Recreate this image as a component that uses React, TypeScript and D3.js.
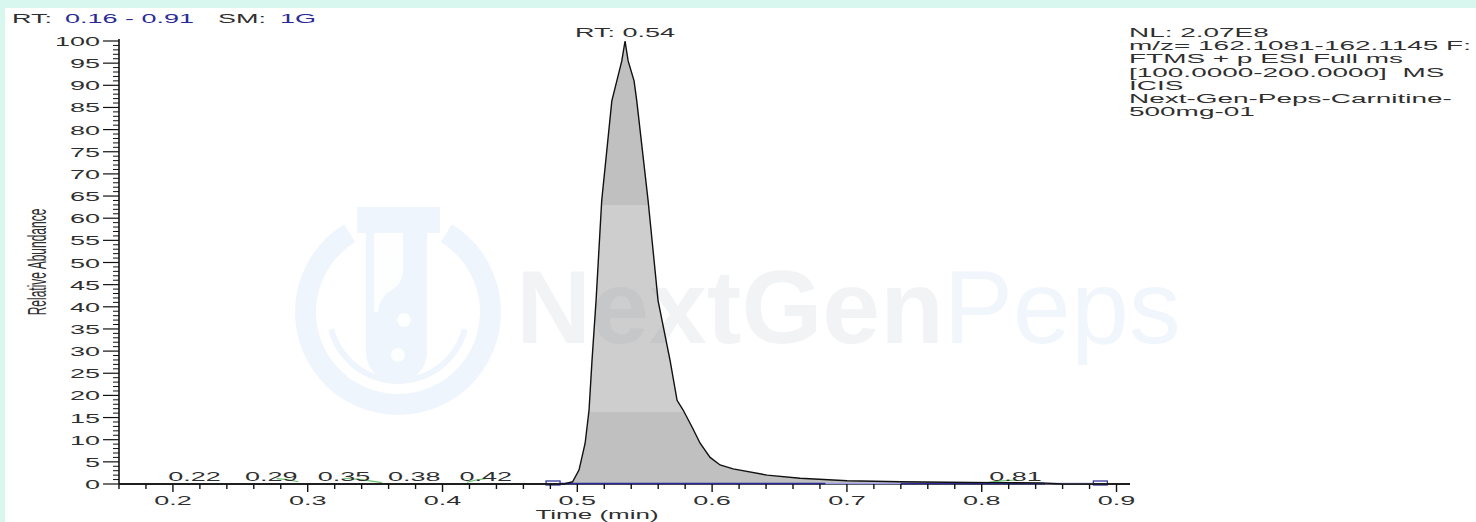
import React from "react";
import * as d3 from "d3";

const W = 1476;
const H = 522;
const FONT = "'Liberation Sans', Arial, Helvetica, sans-serif";
const SX = 2; // the exported chromatogram is stretched ~2x horizontally
const INK = "#2f2f2f";
const NAVY = "#2a2a96";

// chromatogram trace: time (min) / relative abundance (%)
const traceTime = [
  0.16, 0.49, 0.4965, 0.5013, 0.5058, 0.5087, 0.5109, 0.5139, 0.5181, 0.5256,
  0.5293, 0.533, 0.5354, 0.5377, 0.5421, 0.5441, 0.5525, 0.5599, 0.5688, 0.574,
  0.5785, 0.5852, 0.5911, 0.5985, 0.6059, 0.6156, 0.6408, 0.6653, 0.7002, 0.7395,
  0.7915, 0.8137, 0.8434, 0.86, 0.91,
];
const traceAbundance = [
  0, 0, 0.5, 3.2, 9.2, 16.7, 27.9, 41.4, 64, 86.5,
  91, 95.5, 100, 95.5, 91, 86.5, 64, 41.4, 27.9, 18.9,
  16.7, 12.8, 9.2, 6.0, 4.3, 3.4, 2.0, 1.3, 0.75, 0.5,
  0.35, 0.3, 0.25, 0, 0,
];

// small noise peaks (green) near the baseline
const noiseTimes = [
  [0.277, 0.285, 0.293],
  [0.327, 0.34, 0.355],
  [0.418, 0.425, 0.432],
  [0.805, 0.815, 0.826],
];
const noiseValues = [
  [1.2, 1.0, 0.5],
  [1.3, 1.0, 0.3],
  [0.4, 0.9, 1.2],
  [0.4, 0.7, 0.9],
];

// labelled apex times and where each label is centred (min)
const peakLabels = ["0.22", "0.29", "0.35", "0.38", "0.42", "0.81"];
const peakLabelAt = [0.216, 0.273, 0.327, 0.379, 0.432, 0.825];
const mainPeakLabel = "RT: 0.54";

// integration baseline pieces and markers
const baselineFrom = [0.487, 0.684, 0.74, 0.847];
const baselineTo = [0.684, 0.74, 0.847, 0.883];
const baselineTone = ["dark", "light", "dark", "light"];
const markerTimes = [0.4768, 0.8828];
const markerWidth = 0.0104;

const xTickValues = [0.2, 0.3, 0.4, 0.5, 0.6, 0.7, 0.8, 0.9];
const xTickLabels = ["0.2", "0.3", "0.4", "0.5", "0.6", "0.7", "0.8", "0.9"];
const yTickValues = d3.range(0, 101, 5);
const yTickLabels = yTickValues.map(String);

const infoLines = [
  "NL: 2.07E8",
  "m/z= 162.1081-162.1145 F:",
  "FTMS + p ESI Full ms",
  "[100.0000-200.0000]  MS",
  "ICIS",
  "Next-Gen-Peps-Carnitine-",
  "500mg-01",
];

function SText({ x, y, anchor = "start", fill = INK, size = 13.5, sx = SX, children }: any) {
  return (
    <text
      transform={`translate(${x},${y}) scale(${sx},1)`}
      textAnchor={anchor}
      fill={fill}
      fontSize={size}
      fontFamily={FONT}
      style={{ whiteSpace: "pre" }}
    >
      {children}
    </text>
  );
}

function Watermark() {
  const cx = 398;
  const cy = 312;
  const ring = d3.arc()({
    innerRadius: 82,
    outerRadius: 103,
    startAngle: 0.55,
    endAngle: Math.PI * 2 - 0.55,
  } as any) as string;
  const swoosh = d3.arc()({
    innerRadius: 66,
    outerRadius: 72,
    startAngle: Math.PI * 0.58,
    endAngle: Math.PI * 1.42,
  } as any) as string;
  const blue = "#3b7fe6";
  return (
    <g>
      {/* pale band of the watermark image */}
      <rect x={290} y={205} width={920} height={207} fill="#fff" opacity={0.22} />
      <g fill={blue} opacity={0.075}>
        <path d={ring} transform={`translate(${cx},${cy})`} />
        <path d={swoosh} transform={`translate(${cx},${cy})`} />
        <rect x={357} y={207} width={83} height={26} />
        <path d="M366,233 H427 V352 A30.5,30.5 0 0 1 366,352 Z" />
      </g>
      <g fill="#fff" opacity={0.9}>
        <path d="M374,233 H403 V268 Q403,284 392,290 Q380,296 378,312 L374,312 Z" />
        <circle cx={404} cy={320} r={7} />
        <circle cx={398} cy={355} r={7} />
      </g>
      <text x={516} y={343} fontFamily={FONT} fontSize={104}>
        <tspan fontWeight="bold" fill="#7d8591" fillOpacity={0.1}>NextGen</tspan>
        <tspan fill={blue} fillOpacity={0.07}>Peps</tspan>
      </text>
    </g>
  );
}

export default function App() {
  const x = d3.scaleLinear().domain([0.16, 0.91]).range([119, 1130]);
  const y = d3.scaleLinear().domain([0, 100]).range([484, 41]);

  const pts = traceTime.map((t, i) => [t, traceAbundance[i]] as [number, number]);
  const area = d3.area<[number, number]>()
    .x((d) => x(d[0]))
    .y0(y(0))
    .y1((d) => y(d[1]));
  const line = d3.line<[number, number]>()
    .x((d) => x(d[0]))
    .y((d) => y(d[1]));

  const apexIdx = d3.maxIndex(traceAbundance);
  const minorX = d3.range(0.16, 0.9101, 0.02).filter(
    (t) => !xTickValues.some((m) => Math.abs(m - t) < 1e-6),
  );
  const minorY = d3.range(0, 101, 1).filter((v) => v % 5 !== 0);

  return (
    <div style={{ position: "absolute", left: 0, top: 0 }}>
      <svg width={W} height={H} style={{ display: "block", background: "#fff" }}>
        <rect x={0} y={0} width={W} height={8} fill="#d8f7ee" />
        <rect x={0} y={0} width={5} height={H} fill="#d8f7ee" />

        {/* header */}
        <SText x={12} y={23}>RT:</SText>
        <SText x={65} y={23} fill={NAVY}>0.16 - 0.91</SText>
        <SText x={218} y={23}>SM:</SText>
        <SText x={280} y={23} fill={NAVY}>1G</SText>

        {/* trace fill */}
        <path d={area(pts) as string} fill="#c0c0c0" />

        <Watermark />

        {/* noise */}
        {noiseTimes.map((ts, k) => (
          <path
            key={k}
            d={line(ts.map((t, i) => [t, noiseValues[k][i]])) as string}
            fill="none"
            stroke="#6cc06c"
            strokeWidth={1.2}
          />
        ))}

        {/* axes */}
        <line x1={x(0.16)} x2={x(0.91)} y1={y(0)} y2={y(0)} stroke="#111" strokeWidth={1.6} />
        <line x1={x(0.16)} x2={x(0.16)} y1={y(0)} y2={y(100) - 2} stroke="#111" strokeWidth={1.6} />

        {/* integration baseline */}
        {baselineFrom.map((t, i) => (
          <line
            key={i}
            x1={x(t)}
            x2={x(baselineTo[i])}
            y1={y(0) - 0.5}
            y2={y(0) - 0.5}
            stroke={baselineTone[i] === "dark" ? NAVY : "#9d9de8"}
            strokeWidth={1.6}
          />
        ))}
        {markerTimes.map((t, i) => (
          <rect
            key={i}
            x={x(t)}
            y={y(0) - 3}
            width={x(t + markerWidth) - x(t)}
            height={4}
            fill="none"
            stroke={NAVY}
            strokeWidth={1.2}
          />
        ))}

        {/* trace outline */}
        <path d={line(pts) as string} fill="none" stroke="#111" strokeWidth={1.4} />

        {/* x ticks */}
        {xTickValues.map((t, i) => (
          <g key={i}>
            <line x1={x(t)} x2={x(t)} y1={y(0)} y2={y(0) + 8} stroke="#111" strokeWidth={1.4} />
            <SText x={x(t)} y={505} anchor="middle">{xTickLabels[i]}</SText>
          </g>
        ))}
        {minorX.map((t, i) => (
          <line key={i} x1={x(t)} x2={x(t)} y1={y(0)} y2={y(0) + 5} stroke="#111" strokeWidth={1.4} />
        ))}
        <SText x={597} y={519} anchor="middle" size={13}>Time (min)</SText>

        {/* y ticks */}
        {yTickValues.map((v, i) => (
          <g key={i}>
            <line x1={x(0.16) - 16} x2={x(0.16)} y1={y(v)} y2={y(v)} stroke="#111" strokeWidth={1.2} />
            <SText x={100} y={y(v) + 5} anchor="end">{yTickLabels[i]}</SText>
          </g>
        ))}
        {minorY.map((v, i) => (
          <line key={i} x1={x(0.16) - 6} x2={x(0.16)} y1={y(v)} y2={y(v)} stroke="#111" strokeWidth={1} />
        ))}
        <text
          transform="translate(46,262) rotate(-90) scale(1,2.2)"
          textAnchor="middle"
          fontFamily={FONT}
          fontSize={12}
          fill={INK}
        >
          Relative Abundance
        </text>

        {/* peak labels */}
        <SText x={x(traceTime[apexIdx])} y={37} anchor="middle">{mainPeakLabel}</SText>
        {peakLabels.map((s, i) => (
          <SText key={i} x={x(peakLabelAt[i])} y={481} anchor="middle">{s}</SText>
        ))}

        {/* info block */}
        {infoLines.map((s, i) => (
          <SText key={i} x={1129} y={37 + i * 13.17} size={13.5} sx={2.07}>{s}</SText>
        ))}
      </svg>
    </div>
  );
}
